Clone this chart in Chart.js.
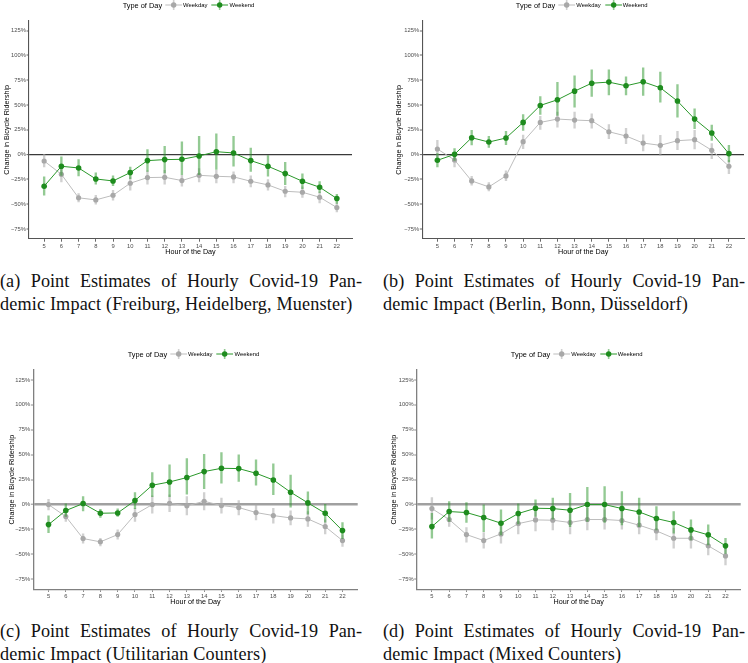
<!DOCTYPE html>
<html>
<head>
<meta charset="utf-8">
<script src="https://cdn.jsdelivr.net/npm/chart.js@4.4.1/dist/chart.umd.min.js"></script>
<style>
  body { margin: 0; background: #fff; width: 748px; height: 663px; position: relative; overflow: hidden;
         font-family: "Liberation Sans", Arial, sans-serif; }
  canvas { position: absolute; }
  .legend { position: absolute; display: flex; align-items: center; white-space: nowrap;
            transform: translate(-50%, -50%); color: #000; }
  .legend .title { font-size: 7.4px; margin-right: 3px; }
  .legend .lab { font-size: 5.9px; margin: 0 4px 0 1px; }
  .cap { position: absolute; width: 362px; font-family: "Liberation Serif", serif; font-size: 18.2px;
         letter-spacing: 0.15px; line-height: 22.5px; color: #111; }
  .cap .l1 { text-align: justify; text-align-last: justify; letter-spacing: 0; }
</style>
</head>
<body>

<canvas id="ca" width="374" height="262" style="left:0;top:0"></canvas>
<canvas id="cb" width="374" height="262" style="left:374px;top:0"></canvas>
<canvas id="cc" width="374" height="285" style="left:0;top:330px"></canvas>
<canvas id="cd" width="374" height="285" style="left:374px;top:330px"></canvas>

<div class="cap" style="left:0;top:270px"><div class="l1">(a) Point Estimates of Hourly Covid-19 Pan-</div><div>demic Impact (Freiburg, Heidelberg, Muenster)</div></div>
<div class="cap" style="left:383px;top:270px"><div class="l1">(b) Point Estimates of Hourly Covid-19 Pan-</div><div>demic Impact (Berlin, Bonn, Düsseldorf)</div></div>
<div class="cap" style="left:0;top:620px"><div class="l1">(c) Point Estimates of Hourly Covid-19 Pan-</div><div>demic Impact (Utilitarian Counters)</div></div>
<div class="cap" style="left:383px;top:620px"><div class="l1">(d) Point Estimates of Hourly Covid-19 Pan-</div><div>demic Impact (Mixed Counters)</div></div>

<script>
// hours shown on the x axis
const hours = [5, 6, 7, 8, 9, 10, 11, 12, 13, 14, 15, 16, 17, 18, 19, 20, 21, 22];
const yTicks = [-75, -50, -25, 0, 25, 50, 75, 100, 125];
const seriesNames = ["Weekday", "Weekend"];

// (a) Freiburg, Heidelberg, Muenster
const aWeekday     = [-6.4, -19.8, -43.5, -45.6, -40.9, -28.8, -23.1, -22.8, -26.1, -20.8, -21.8, -22.4, -26.8, -30.5, -36.9, -37.9, -42.9, -53.3];
const aWeekdayLow  = [-12.4, -27.5, -47.6, -50.0, -45.9, -35.9, -29.8, -29.8, -31.8, -27.5, -28.5, -28.5, -32.5, -35.9, -42.6, -43.2, -48.6, -57.6];
const aWeekdayHigh = [0.3, -12.4, -39.2, -40.9, -35.9, -22.4, -16.4, -15.7, -20.8, -14.1, -15.7, -17.4, -21.4, -25.1, -31.8, -32.5, -37.5, -48.6];
const aWeekend     = [-31.8, -11.7, -13.4, -24.5, -26.5, -18.1, -6.0, -5.0, -4.7, -1.3, 3.0, 1.7, -6.0, -11.7, -19.1, -26.8, -32.8, -44.2];
const aWeekendLow  = [-40.9, -20.8, -21.4, -29.8, -31.2, -24.1, -16.8, -18.4, -20.1, -20.1, -15.0, -11.7, -16.8, -21.8, -30.2, -34.2, -38.2, -49.2];
const aWeekendHigh = [-22.4, -2.3, -5.0, -18.4, -21.4, -12.4, 5.0, 8.4, 13.0, 18.4, 21.1, 18.4, 6.7, -1.0, -7.7, -19.4, -27.1, -39.9];

// (b) Berlin, Bonn, Duesseldorf
const bWeekday     = [5.7, -5.4, -26.5, -32.5, -21.4, 13.1, 32.5, 35.9, 34.9, 34.2, 23.1, 18.8, 11.7, 9.4, 14.1, 15.1, 4.4, -11.7];
const bWeekdayLow  = [-2.3, -12.4, -30.8, -36.5, -26.1, 6.0, 25.5, 27.8, 26.8, 26.8, 16.1, 11.1, 3.7, -0.7, 5.0, 5.7, -4.0, -19.1];
const bWeekdayHigh = [14.4, 0.3, -21.8, -28.1, -16.4, 19.8, 38.5, 42.9, 42.9, 41.2, 30.2, 26.5, 20.1, 19.4, 23.5, 24.5, 11.1, -5.7];
const bWeekend     = [-5.7, 0.3, 17.1, 12.7, 16.8, 32.5, 49.6, 55.3, 64.0, 72.0, 73.1, 69.4, 73.4, 67.4, 54.0, 35.9, 21.8, 1.0];
const bWeekendLow  = [-12.4, -5.7, 9.7, 7.4, 10.1, 24.5, 40.5, 39.5, 47.9, 58.6, 60.3, 60.3, 59.7, 52.9, 37.9, 26.1, 14.4, -7.4];
const bWeekendHigh = [1.0, 6.0, 24.5, 18.4, 23.5, 40.5, 58.6, 73.0, 79.4, 85.5, 85.5, 78.4, 87.5, 83.1, 70.7, 46.2, 29.8, 9.4];

// (c) Utilitarian counters
const cWeekday     = [0.0, -12.0, -34.1, -37.4, -30.1, -10.0, 0.0, 1.3, -1.3, 3.3, -1.0, -3.0, -8.0, -11.0, -13.4, -14.4, -22.1, -36.1];
const cWeekdayLow  = [-5.3, -17.0, -38.8, -41.4, -34.8, -17.0, -8.7, -7.0, -10.4, -5.3, -8.7, -10.4, -15.4, -18.7, -20.4, -22.0, -29.4, -42.1];
const cWeekdayHigh = [5.3, -7.0, -29.4, -33.8, -25.4, -3.7, 8.7, 9.7, 8.0, 12.0, 6.4, 4.0, -0.3, -3.7, -6.4, -7.0, -15.4, -30.4];
const cWeekend     = [-20.1, -6.0, 1.0, -8.7, -8.4, 4.0, 19.4, 22.7, 27.1, 33.1, 36.4, 36.1, 31.4, 24.7, 12.4, 1.7, -8.7, -26.1];
const cWeekendLow  = [-28.1, -12.0, -6.4, -13.0, -12.0, -4.0, 8.0, 8.0, 10.4, 16.0, 21.4, 23.1, 19.4, 10.0, -2.7, -9.7, -17.7, -34.1];
const cWeekendHigh = [-11.4, 0.7, 8.0, -4.7, -4.3, 12.0, 32.1, 39.8, 46.1, 50.5, 52.1, 49.8, 44.8, 40.8, 29.7, 12.7, 0.3, -18.0];

// (d) Mixed counters
const dWeekday     = [-4.0, -15.0, -30.1, -36.1, -29.4, -19.1, -15.4, -15.7, -18.0, -15.0, -15.0, -16.0, -20.7, -26.4, -33.8, -33.8, -41.4, -51.5];
const dWeekdayLow  = [-14.7, -22.0, -37.8, -43.8, -38.8, -29.4, -26.4, -25.4, -29.4, -25.4, -24.7, -24.7, -29.4, -35.4, -43.8, -43.8, -50.5, -60.5];
const dWeekdayHigh = [7.0, -8.0, -23.1, -28.1, -18.7, -9.4, -3.7, -5.3, -7.0, -3.7, -5.3, -7.0, -12.0, -17.0, -23.7, -24.7, -33.8, -43.8];
const dWeekend     = [-22.1, -7.0, -8.0, -13.0, -18.7, -9.0, -3.7, -4.0, -5.7, 0.0, 0.0, -4.0, -7.4, -14.0, -18.0, -25.4, -30.4, -41.4];
const dWeekendLow  = [-33.8, -17.0, -18.0, -27.1, -30.4, -19.4, -12.0, -14.7, -22.1, -17.0, -18.0, -20.4, -22.1, -25.4, -28.7, -35.4, -40.4, -49.1];
const dWeekendHigh = [-8.7, 3.0, 2.0, -0.3, -5.3, 0.7, 4.7, 6.4, 11.4, 17.4, 18.0, 13.0, 6.4, -2.0, -7.0, -15.4, -20.4, -33.8];

const greyPoint = "#a8a8a8", greyLine = "#bdbdbd", greyBar = "rgba(170,170,170,0.55)";
const greenPoint = "#1e8c1e", greenLine = "#2a982a", greenBar = "rgba(40,150,40,0.5)";

Chart.defaults.font.family = '"Liberation Sans", Arial, sans-serif';
Chart.defaults.color = "#4d4d4d";

function points(vals) {
  return hours.map((h, i) => ({ x: h, y: vals[i] }));
}
function ranges(lo, hi) {
  return hours.map((h, i) => ({ x: h, y: [lo[i], hi[i]] }));
}

function makePanel(id, wd, wdLo, wdHi, we, weLo, weHi, lay) {
  new Chart(document.getElementById(id), {
    type: "line",
    data: {
      datasets: [
        { type: "line", label: seriesNames[1], data: points(we), order: 1,
          borderColor: greenLine, borderWidth: 1, pointRadius: 2.8, pointBackgroundColor: greenPoint,
          pointBorderWidth: 0, tension: 0 },
        { type: "bar", label: seriesNames[1] + " CI", data: ranges(weLo, weHi), order: 2,
          backgroundColor: greenBar, barThickness: 1.7, grouped: false, borderWidth: 0 },
        { type: "line", label: seriesNames[0], data: points(wd), order: 3,
          borderColor: greyLine, borderWidth: 1, pointRadius: 2.6, pointBackgroundColor: greyPoint,
          pointBorderWidth: 0, tension: 0 },
        { type: "bar", label: seriesNames[0] + " CI", data: ranges(wdLo, wdHi), order: 4,
          backgroundColor: greyBar, barThickness: 1.7, grouped: false, borderWidth: 0 },
      ],
    },
    options: {
      responsive: false,
      animation: false,
      layout: { padding: { left: lay.padL, right: lay.padR, top: lay.padT, bottom: lay.padB } },
      plugins: { legend: { display: false }, tooltip: { enabled: false } },
      scales: {
        x: {
          type: "linear", min: 4.12, max: 22.88, offset: false,
          afterBuildTicks: (axis) => { axis.ticks = hours.map((h) => ({ value: h })); },
          afterFit: (axis) => { axis.height = lay.xH; },
          grid: { drawOnChartArea: false, offset: false, tickLength: 2.7, tickColor: lay.axisColor, tickWidth: 0.9 },
          border: { color: lay.axisColor, width: lay.axisWidth },
          ticks: { font: { size: 5.8 }, padding: 1, maxRotation: 0, autoSkip: false, color: "#4d4d4d" },
          title: { display: true, text: "Hour of the Day", color: "#000", font: { size: 7.2 }, padding: 0 },
        },
        y: {
          min: -85, max: 135,
          afterBuildTicks: (axis) => { axis.ticks = yTicks.map((v) => ({ value: v })); },
          afterFit: (axis) => { axis.width = lay.yW; },
          grid: {
            color: (c) => (c.tick && c.tick.value === 0 ? lay.zeroColor : "rgba(0,0,0,0)"),
            lineWidth: (c) => (c.tick && c.tick.value === 0 ? lay.zeroWidth : 0),
            tickLength: 2.5, tickColor: lay.axisColor, tickWidth: 0.9,
          },
          border: { color: lay.axisColor, width: lay.axisWidth },
          ticks: {
            font: { size: 5.8 }, padding: 0.6, color: "#4d4d4d",
            callback: (v) => (v < 0 ? "\u2212" + Math.abs(v) : v) + "%",
          },
          title: { display: true, text: "Change in Bicycle Ridership", color: "#000", font: { size: 7.2 }, padding: 0 },
        },
      },
    },
  });
}

// legend in ggplot style, drawn as html
function icon(point, bar, line) {
  return '<svg width="17" height="10" viewBox="0 0 17 10">' +
    '<line x1="0" y1="5" x2="17" y2="5" stroke="' + line + '" stroke-width="1"/>' +
    '<line x1="8.5" y1="0" x2="8.5" y2="10" stroke="' + bar + '" stroke-width="1.6"/>' +
    '<circle cx="8.5" cy="5" r="2.7" fill="' + point + '"/></svg>';
}
function addLegend(cx, cy) {
  const d = document.createElement("div");
  d.className = "legend";
  d.style.left = cx + "px";
  d.style.top = cy + "px";
  d.innerHTML = '<span class="title">Type of Day</span>' +
    icon(greyPoint, greyBar, greyLine) + '<span class="lab">' + seriesNames[0] + '</span>' +
    icon(greenPoint, greenBar, greenLine) + '<span class="lab">' + seriesNames[1] + '</span>';
  document.body.appendChild(d);
}

const topRow = { padT: 20.7, xH: 17.7, padB: 5.3, zeroColor: "#3a3a3a", zeroWidth: 1.2, axisColor: "#555", axisWidth: 1.1 };
const botRow = { padT: 40, xH: 17.2, padB: 8.5, zeroColor: "#a0a0a0", zeroWidth: 2.4, axisColor: "#808080", axisWidth: 1.3 };

makePanel("ca", aWeekday, aWeekdayLow, aWeekdayHigh, aWeekend, aWeekendLow, aWeekendHigh,
  Object.assign({ padL: 2.5, yW: 26.5, padR: 22 }, topRow));
makePanel("cb", bWeekday, bWeekdayLow, bWeekdayHigh, bWeekend, bWeekendLow, bWeekendHigh,
  Object.assign({ padL: 20.8, yW: 27.5, padR: 3 }, topRow));
makePanel("cc", cWeekday, cWeekdayLow, cWeekdayHigh, cWeekend, cWeekendLow, cWeekendHigh,
  Object.assign({ padL: 7.5, yW: 25.8, padR: 16.3 }, botRow));
makePanel("cd", dWeekday, dWeekdayLow, dWeekdayHigh, dWeekend, dWeekendLow, dWeekendHigh,
  Object.assign({ padL: 15.8, yW: 26.9, padR: 7.3 }, botRow));

addLegend(190.5, 5);
addLegend(583.7, 5);
addLegend(195.5, 354.3);
addLegend(578.7, 354.3);
</script>
</body>
</html>
